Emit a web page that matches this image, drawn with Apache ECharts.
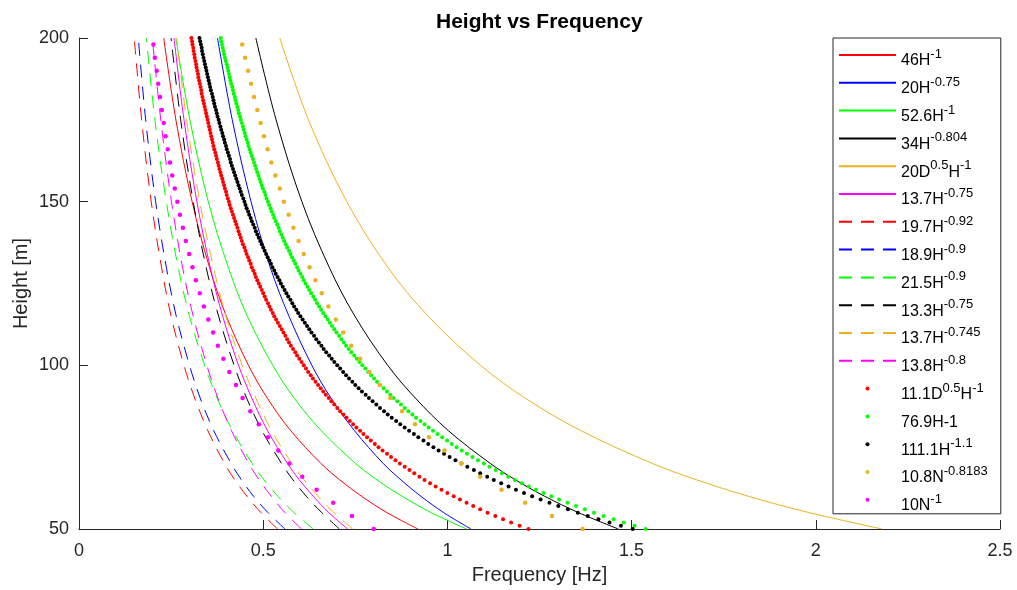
<!DOCTYPE html>
<html>
<head>
<meta charset="utf-8">
<title>Height vs Frequency</title>
<script src="https://cdn.jsdelivr.net/npm/echarts@6/dist/echarts.min.js"></script>
<style>
  html, body { margin: 0; padding: 0; background: #fff; }
  #chart { width: 1017px; height: 590px; }
</style>
</head>
<body>
<div id="chart"></div>
<script>
// Heights [m] at which the continuous formulas are sampled
const lineHeights = [50, 55, 60, 65, 70, 80, 90, 100, 115, 130, 150, 175, 200];

// Frequencies [Hz] of the continuous curves at lineHeights
const f46H = [0.920, 0.836, 0.767, 0.708, 0.657, 0.575, 0.511, 0.460, 0.400, 0.354, 0.307, 0.263, 0.230];
const f20H075 = [1.064, 0.990, 0.928, 0.874, 0.826, 0.748, 0.684, 0.632, 0.570, 0.519, 0.467, 0.416, 0.376];
const f526H = [1.052, 0.956, 0.877, 0.809, 0.751, 0.658, 0.584, 0.526, 0.457, 0.405, 0.351, 0.301, 0.263];
const f34H0804 = [1.464, 1.356, 1.264, 1.185, 1.117, 1.003, 0.913, 0.838, 0.749, 0.679, 0.605, 0.535, 0.480];
const f20D05H = [2.180, 1.982, 1.817, 1.677, 1.557, 1.363, 1.211, 1.090, 0.948, 0.838, 0.727, 0.623, 0.545];
const f137H075 = [0.729, 0.678, 0.636, 0.598, 0.566, 0.512, 0.469, 0.433, 0.390, 0.356, 0.320, 0.285, 0.258];
const f197H092 = [0.539, 0.494, 0.456, 0.423, 0.395, 0.350, 0.314, 0.285, 0.250, 0.224, 0.196, 0.170, 0.150];
const f189H09 = [0.559, 0.513, 0.474, 0.441, 0.413, 0.366, 0.329, 0.300, 0.264, 0.237, 0.208, 0.181, 0.161];
const f215H09 = [0.636, 0.584, 0.540, 0.502, 0.470, 0.417, 0.375, 0.341, 0.300, 0.269, 0.237, 0.206, 0.183];
const f133H075 = [0.707, 0.659, 0.617, 0.581, 0.550, 0.497, 0.455, 0.421, 0.379, 0.345, 0.310, 0.276, 0.250];
const f137H0745 = [0.743, 0.692, 0.649, 0.611, 0.578, 0.523, 0.480, 0.443, 0.399, 0.365, 0.328, 0.292, 0.265];
const f138H08 = [0.604, 0.559, 0.522, 0.489, 0.461, 0.414, 0.377, 0.347, 0.310, 0.281, 0.251, 0.222, 0.199];

// Heights [m] of the densely sampled point series (1 m step)
const denseHeights = [
  50, 51, 52, 53, 54, 55, 56, 57, 58, 59,
  60, 61, 62, 63, 64, 65, 66, 67, 68, 69,
  70, 71, 72, 73, 74, 75, 76, 77, 78, 79,
  80, 81, 82, 83, 84, 85, 86, 87, 88, 89,
  90, 91, 92, 93, 94, 95, 96, 97, 98, 99,
  100, 101, 102, 103, 104, 105, 106, 107, 108, 109,
  110, 111, 112, 113, 114, 115, 116, 117, 118, 119,
  120, 121, 122, 123, 124, 125, 126, 127, 128, 129,
  130, 131, 132, 133, 134, 135, 136, 137, 138, 139,
  140, 141, 142, 143, 144, 145, 146, 147, 148, 149,
  150, 151, 152, 153, 154, 155, 156, 157, 158, 159,
  160, 161, 162, 163, 164, 165, 166, 167, 168, 169,
  170, 171, 172, 173, 174, 175, 176, 177, 178, 179,
  180, 181, 182, 183, 184, 185, 186, 187, 188, 189,
  190, 191, 192, 193, 194, 195, 196, 197, 198, 199,
  200
];

// 11.1 D^0.5 H^-1
const p111D05H = [
  1.220, 1.196, 1.173, 1.151, 1.130, 1.109, 1.089, 1.070, 1.052, 1.034,
  1.017, 1.000, 0.984, 0.968, 0.953, 0.938, 0.924, 0.910, 0.897, 0.884,
  0.871, 0.859, 0.847, 0.836, 0.824, 0.813, 0.803, 0.792, 0.782, 0.772,
  0.763, 0.753, 0.744, 0.735, 0.726, 0.718, 0.709, 0.701, 0.693, 0.685,
  0.678, 0.670, 0.663, 0.656, 0.649, 0.642, 0.635, 0.629, 0.622, 0.616,
  0.610, 0.604, 0.598, 0.592, 0.587, 0.581, 0.575, 0.570, 0.565, 0.560,
  0.555, 0.550, 0.545, 0.540, 0.535, 0.530, 0.526, 0.521, 0.517, 0.513,
  0.508, 0.504, 0.500, 0.496, 0.492, 0.488, 0.484, 0.480, 0.477, 0.473,
  0.469, 0.466, 0.462, 0.459, 0.455, 0.452, 0.449, 0.445, 0.442, 0.439,
  0.436, 0.433, 0.430, 0.427, 0.424, 0.421, 0.418, 0.415, 0.412, 0.409,
  0.407, 0.404, 0.401, 0.399, 0.396, 0.394, 0.391, 0.389, 0.386, 0.384,
  0.381, 0.379, 0.377, 0.374, 0.372, 0.370, 0.367, 0.365, 0.363, 0.361,
  0.359, 0.357, 0.355, 0.353, 0.351, 0.349, 0.347, 0.345, 0.343, 0.341,
  0.339, 0.337, 0.335, 0.333, 0.332, 0.330, 0.328, 0.326, 0.324, 0.323,
  0.321, 0.319, 0.318, 0.316, 0.314, 0.313, 0.311, 0.310, 0.308, 0.307,
  0.305
];

// 76.9 H^-1
const p769H = [
  1.538, 1.508, 1.479, 1.451, 1.424, 1.398, 1.373, 1.349, 1.326, 1.303,
  1.282, 1.261, 1.240, 1.221, 1.202, 1.183, 1.165, 1.148, 1.131, 1.114,
  1.099, 1.083, 1.068, 1.053, 1.039, 1.025, 1.012, 0.999, 0.986, 0.973,
  0.961, 0.949, 0.938, 0.927, 0.915, 0.905, 0.894, 0.884, 0.874, 0.864,
  0.854, 0.845, 0.836, 0.827, 0.818, 0.809, 0.801, 0.793, 0.785, 0.777,
  0.769, 0.761, 0.754, 0.747, 0.739, 0.732, 0.725, 0.719, 0.712, 0.706,
  0.699, 0.693, 0.687, 0.681, 0.675, 0.669, 0.663, 0.657, 0.652, 0.646,
  0.641, 0.636, 0.630, 0.625, 0.620, 0.615, 0.610, 0.606, 0.601, 0.596,
  0.592, 0.587, 0.583, 0.578, 0.574, 0.570, 0.565, 0.561, 0.557, 0.553,
  0.549, 0.545, 0.542, 0.538, 0.534, 0.530, 0.527, 0.523, 0.520, 0.516,
  0.513, 0.509, 0.506, 0.503, 0.499, 0.496, 0.493, 0.490, 0.487, 0.484,
  0.481, 0.478, 0.475, 0.472, 0.469, 0.466, 0.463, 0.460, 0.458, 0.455,
  0.452, 0.450, 0.447, 0.445, 0.442, 0.439, 0.437, 0.434, 0.432, 0.430,
  0.427, 0.425, 0.423, 0.420, 0.418, 0.416, 0.413, 0.411, 0.409, 0.407,
  0.405, 0.403, 0.401, 0.398, 0.396, 0.394, 0.392, 0.390, 0.388, 0.386,
  0.385
];

// 111.1 H^-1.1
const p1111H11 = [
  1.503, 1.471, 1.440, 1.410, 1.381, 1.354, 1.327, 1.301, 1.277, 1.253,
  1.230, 1.208, 1.186, 1.166, 1.146, 1.126, 1.108, 1.089, 1.072, 1.054,
  1.038, 1.022, 1.006, 0.991, 0.976, 0.962, 0.948, 0.935, 0.921, 0.909,
  0.896, 0.884, 0.872, 0.861, 0.849, 0.838, 0.828, 0.817, 0.807, 0.797,
  0.787, 0.778, 0.768, 0.759, 0.750, 0.742, 0.733, 0.725, 0.717, 0.709,
  0.701, 0.693, 0.686, 0.679, 0.671, 0.664, 0.658, 0.651, 0.644, 0.638,
  0.631, 0.625, 0.619, 0.613, 0.607, 0.601, 0.595, 0.590, 0.584, 0.579,
  0.574, 0.568, 0.563, 0.558, 0.553, 0.548, 0.544, 0.539, 0.534, 0.530,
  0.525, 0.521, 0.517, 0.512, 0.508, 0.504, 0.500, 0.496, 0.492, 0.488,
  0.484, 0.480, 0.477, 0.473, 0.469, 0.466, 0.462, 0.459, 0.455, 0.452,
  0.449, 0.446, 0.442, 0.439, 0.436, 0.433, 0.430, 0.427, 0.424, 0.421,
  0.418, 0.415, 0.412, 0.410, 0.407, 0.404, 0.401, 0.399, 0.396, 0.394,
  0.391, 0.389, 0.386, 0.384, 0.381, 0.379, 0.376, 0.374, 0.372, 0.369,
  0.367, 0.365, 0.363, 0.361, 0.358, 0.356, 0.354, 0.352, 0.350, 0.348,
  0.346, 0.344, 0.342, 0.340, 0.338, 0.336, 0.334, 0.333, 0.331, 0.329,
  0.327
];

// Heights [m] of the storey-based point series (4 m step)
const storeyHeights = [
  50, 54, 58, 62, 66, 70, 74, 78, 82, 86, 90, 94, 98,
  102, 106, 110, 114, 118, 122, 126, 130, 134, 138, 142, 146,
  150, 154, 158, 162, 166, 170, 174, 178, 182, 186, 190, 194, 198
];

// 10.8 N^-0.8183
const p108N = [
  1.367, 1.284, 1.211, 1.147, 1.089, 1.038, 0.992, 0.950, 0.912, 0.877, 0.845, 0.816, 0.788,
  0.763, 0.739, 0.717, 0.697, 0.677, 0.659, 0.642, 0.626, 0.610, 0.596, 0.582, 0.569,
  0.556, 0.545, 0.533, 0.522, 0.512, 0.502, 0.493, 0.484, 0.475, 0.467, 0.459, 0.451, 0.443
];

// 10 N^-1
const p10N = [
  0.800, 0.741, 0.690, 0.645, 0.606, 0.571, 0.541, 0.513, 0.488, 0.465, 0.444, 0.426, 0.408,
  0.392, 0.377, 0.364, 0.351, 0.339, 0.328, 0.317, 0.308, 0.299, 0.290, 0.282, 0.274,
  0.267, 0.260, 0.253, 0.247, 0.241, 0.235, 0.230, 0.225, 0.220, 0.215, 0.211, 0.206, 0.202
];

// Axis ticks
const xTicks = [0, 0.5, 1, 1.5, 2, 2.5];
const yTicks = [50, 100, 150, 200];

const FONT = '"Liberation Sans", Arial, Helvetica, sans-serif';
const RED = '#ff0000', BLUE = '#0000ff', GREEN = '#00ff00', BLACK = '#000000',
      ORANGE = '#edb120', MAGENTA = '#ff00ff';

// Legend names use '^' to separate base text from superscript parts
function curve(name, values, color, dashed) {
  return {
    name: name,
    type: 'line',
    data: lineHeights.map((h, i) => [values[i], h]),
    smooth: 0.35,
    symbol: 'none',
    lineStyle: { color: color, width: 1, type: dashed ? [13, 9] : 'solid' },
    itemStyle: { color: color },
    z: 2
  };
}

function dots(name, heights, values, color, size) {
  return {
    name: name,
    type: 'scatter',
    data: heights.map((h, i) => [values[i], h]),
    symbol: 'circle',
    symbolSize: size,
    itemStyle: { color: color, opacity: 1 },
    z: 3
  };
}

const series = [
  curve('46H^-1', f46H, RED, false),
  curve('20H^-0.75', f20H075, BLUE, false),
  curve('52.6H^-1', f526H, GREEN, false),
  curve('34H^-0.804', f34H0804, BLACK, false),
  curve('20D^0.5^H^-1', f20D05H, ORANGE, false),
  curve('13.7H^-0.75', f137H075, MAGENTA, false),
  curve('19.7H^-0.92', f197H092, RED, true),
  curve('18.9H^-0.9', f189H09, BLUE, true),
  curve('21.5H^-0.9', f215H09, GREEN, true),
  curve('13.3H^-0.75', f133H075, BLACK, true),
  curve('13.7H^-0.745', f137H0745, ORANGE, true),
  curve('13.8H^-0.8', f138H08, MAGENTA, true),
  dots('11.1D^0.5^H^-1', denseHeights, p111D05H, RED, 4),
  dots('76.9H-1', denseHeights, p769H, GREEN, 4),
  dots('111.1H^-1.1', denseHeights, p1111H11, BLACK, 4),
  dots('10.8N^-0.8183', storeyHeights, p108N, ORANGE, 4.5),
  dots('10N^-1', storeyHeights, p10N, MAGENTA, 4.5)
];

// Rich legend label: a zero-width strut keeps every row the same height,
// 'b' is the base text and 's' the raised exponent
function richName(name) {
  const parts = name.split('^');
  let s = '{z|\u200b}';
  parts.forEach((t, i) => { s += '{' + (i % 2 ? 's' : 'b') + '|' + t + '}'; });
  return s;
}

const legendData = series.map(s => s.type === 'line'
  ? { name: s.name, itemStyle: { opacity: 0 } }
  : { name: s.name });

const chart = echarts.init(document.getElementById('chart'), null, { renderer: 'canvas' });
chart.setOption({
  animation: false,
  backgroundColor: '#ffffff',
  textStyle: { fontFamily: FONT },
  title: {
    text: 'Height vs Frequency',
    left: 431,
    top: 7,
    textStyle: { fontFamily: FONT, fontSize: 21, fontWeight: 'bold', color: '#000' }
  },
  grid: { left: 79, right: 17, top: 38, bottom: 61, containLabel: false },
  xAxis: {
    type: 'value',
    min: xTicks[0],
    max: xTicks[xTicks.length - 1],
    interval: 0.5,
    name: 'Frequency [Hz]',
    nameLocation: 'middle',
    nameGap: 36,
    nameMoveOverlap: false,
    nameTextStyle: { fontFamily: FONT, fontSize: 20, color: '#262626' },
    axisLine: { show: true, onZero: false, lineStyle: { color: '#262626', width: 1 } },
    axisTick: { show: true, inside: true, length: 9, lineStyle: { color: '#262626' } },
    axisLabel: { fontFamily: FONT, fontSize: 18, color: '#262626', margin: 13 },
    splitLine: { show: false }
  },
  yAxis: {
    type: 'value',
    min: yTicks[0],
    max: yTicks[yTicks.length - 1],
    interval: 50,
    name: 'Height [m]',
    nameLocation: 'middle',
    nameGap: 48,
    nameMoveOverlap: false,
    nameTextStyle: { fontFamily: FONT, fontSize: 20, color: '#262626' },
    axisLine: { show: true, onZero: false, lineStyle: { color: '#262626', width: 1 } },
    axisTick: { show: true, inside: true, length: 9, lineStyle: { color: '#262626' } },
    axisLabel: { fontFamily: FONT, fontSize: 18, color: '#262626', margin: 10 },
    splitLine: { show: false }
  },
  legend: {
    orient: 'vertical',
    left: 833,
    top: 38,
    padding: [5, 13, 0, 5],
    itemGap: 1.8,
    itemWidth: 57,
    itemHeight: 4,
    selectedMode: false,
    backgroundColor: '#ffffff',
    borderColor: '#262626',
    borderWidth: 1,
    borderRadius: 0,
    data: legendData,
    formatter: richName,
    textStyle: {
      fontFamily: FONT,
      color: '#000',
      rich: {
        z: { fontFamily: FONT, fontSize: 24, lineHeight: 28, verticalAlign: 'middle' },
        b: { fontFamily: FONT, fontSize: 16, lineHeight: 28, verticalAlign: 'bottom', color: '#000' },
        s: { fontFamily: FONT, fontSize: 13, verticalAlign: 'top', padding: [7, 0, 0, 0], color: '#000' }
      }
    }
  },
  series: series
});
</script>
</body>
</html>
